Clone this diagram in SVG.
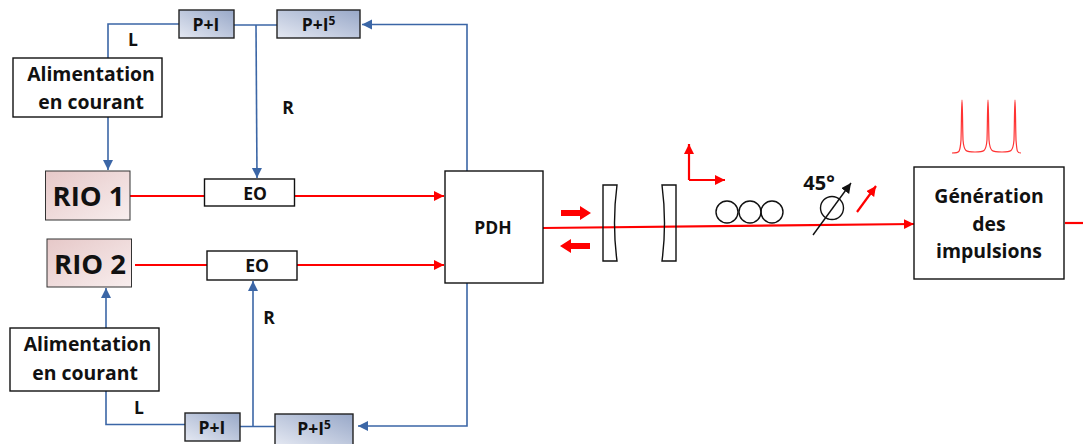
<svg xmlns="http://www.w3.org/2000/svg" width="1083" height="444" viewBox="0 0 1083 444">
<style>
text{font-family:"Open Sans","Noto Sans","Liberation Sans",sans-serif;font-weight:700;fill:#111;text-anchor:middle;font-variant-ligatures:none}
.b{fill:#fff;stroke:#111;stroke-width:1.4}
.p{fill:url(#pg);stroke:#222;stroke-width:1.4}
.r{fill:url(#rg);stroke:#333;stroke-width:1}
.blue{fill:none;stroke:#3b66a6;stroke-width:1.6}
.red{fill:none;stroke:#f00;stroke-width:2.2}
.k{fill:none;stroke:#111;stroke-width:1.4}
.t{font-size:19.4px}
.s{font-size:17.500px}
.rio{font-size:27.500px}
</style>
<defs>
<linearGradient id="pg" x1="0" y1="1" x2="1" y2="0"><stop offset="0" stop-color="#e4e8f2"/><stop offset="1" stop-color="#98a8c8"/></linearGradient>
<linearGradient id="rg" x1="1" y1="1" x2="0" y2="0"><stop offset="0" stop-color="#f8eeee"/><stop offset="1" stop-color="#e6c8c8"/></linearGradient>
<marker id="ab" markerUnits="userSpaceOnUse" markerWidth="12" markerHeight="12" refX="10" refY="5" orient="auto"><path d="M0 0L10 5L0 10Z" fill="#3b66a6"/></marker>
<marker id="ar" markerUnits="userSpaceOnUse" markerWidth="12" markerHeight="12" refX="10" refY="5" orient="auto"><path d="M0 0L10 5L0 10Z" fill="#f00"/></marker>
<marker id="ak" markerUnits="userSpaceOnUse" markerWidth="12" markerHeight="12" refX="10" refY="5" orient="auto"><path d="M0 0L10 5L0 10Z" fill="#111"/></marker>
</defs>
<g id="connectors">
<path class="blue" d="M179 24H108V58"/>
<path class="blue" d="M108 117V170" marker-end="url(#ab)"/>
<path class="blue" d="M234 25H277"/>
<path class="blue" d="M256 25L257 178" marker-end="url(#ab)"/>
<path class="blue" d="M467 171V24.500H362" marker-end="url(#ab)"/>
<path class="blue" d="M106 328V288" marker-end="url(#ab)"/>
<path class="blue" d="M106 391V424.500H185"/>
<path class="blue" d="M240 426.500H275"/>
<path class="blue" d="M253 426V281" marker-end="url(#ab)"/>
<path class="blue" d="M467 281V426H358" marker-end="url(#ab)"/>
<path class="red" d="M130 196H204"/>
<path class="red" d="M295 196H444" marker-end="url(#ar)"/>
<path class="red" d="M135 265H207"/>
<path class="red" d="M297 265H444" marker-end="url(#ar)"/>
<path class="red" d="M543 228L914 224" marker-end="url(#ar)"/>
<path class="red" d="M1065 223H1083"/>
</g>
<g id="rio1"><rect class="r" x="45.500" y="171" width="84.500" height="49"/><text class="rio" x="88.500" y="206">RIO 1</text></g>
<g id="rio2"><rect class="r" x="47" y="239" width="84.500" height="48"/><text class="rio" x="90" y="274">RIO 2</text></g>
<g id="alim1"><rect class="b" x="13" y="58" width="149" height="59"/><text class="t" x="91" y="81">Alimentation</text><text class="t" x="91" y="109">en courant</text></g>
<g id="alim2"><rect class="b" x="10" y="328" width="149" height="63"/><text class="t" x="87.500" y="351">Alimentation</text><text class="t" x="85" y="380">en courant</text></g>
<g id="pi1"><rect class="p" x="179" y="10" width="55" height="28"/><text class="s" x="206" y="31">P+I</text></g>
<g id="pi5-1"><rect class="p" x="277" y="10" width="83" height="28"/><text class="s" x="318.500" y="31">P+I<tspan font-size="12" dy="-6">5</tspan></text></g>
<g id="pi2"><rect class="p" x="185" y="413" width="55" height="28"/><text class="s" x="212" y="434">P+I</text></g>
<g id="pi5-2"><rect class="p" x="275" y="414" width="78" height="31"/><text class="s" x="314" y="435">P+I<tspan font-size="12" dy="-6">5</tspan></text></g>
<g id="eo1"><rect class="b" x="204.500" y="179" width="90" height="27"/><text class="s" x="255" y="200">EO</text></g>
<g id="eo2"><rect class="b" x="207" y="251" width="90" height="29"/><text class="s" x="257" y="272">EO</text></g>
<g id="pdh"><rect class="b" x="445" y="171" width="98" height="112"/><text class="s" x="493" y="234">PDH</text></g>
<g id="generation"><rect class="b" x="914" y="167" width="150" height="112"/><text class="t" x="989" y="203">Génération</text><text class="t" x="989" y="231">des</text><text class="t" x="989" y="258">impulsions</text></g>
<g id="labels"><text class="s" x="133" y="46">L</text><text class="s" x="288" y="114">R</text><text class="s" x="269" y="324">R</text><text class="s" x="139" y="414">L</text><text x="819" y="190" font-size="20">45°</text></g>
<g id="optics">
<path class="k" d="M603 185H617Q612 223 617 261H603Z"/>
<path class="k" d="M676 185H662Q667 223 662 261H676Z"/>
<circle class="k" cx="727" cy="212" r="11"/><circle class="k" cx="750" cy="212" r="11"/><circle class="k" cx="772" cy="212" r="11"/>
<circle class="k" cx="832" cy="208" r="11.500"/>
<path class="k" d="M813 235L851 183" marker-end="url(#ak)"/>
<path class="red" d="M857 212L876 186" marker-end="url(#ar)"/>
<path class="red" d="M689 180V144" marker-end="url(#ar)"/>
<path class="red" d="M689 180H725" marker-end="url(#ar)"/>
<path d="M561 210H580V206L591 213L580 220V216H561Z" fill="#f00"/>
<path d="M590 243H571V239L560 246L571 253V249H590Z" fill="#f00"/>
<path d="M952 153C960 153 960 152 961 140C961.500 125 961.500 100 962 100C962.500 100 962.500 125 963 140C964 152 966 152 975 152C984 152 986 152 987 140C987.500 125 987.500 100 988 100C988.500 100 988.500 125 989 140C990 152 992 152 1002 152C1011 152 1013 152 1014 140C1014.500 125 1014.500 100 1015 100C1015.500 100 1015.500 125 1016 140C1017 152 1017 153 1021 153" fill="none" stroke="#f33" stroke-width="1.200"/>
</g>
</svg>
